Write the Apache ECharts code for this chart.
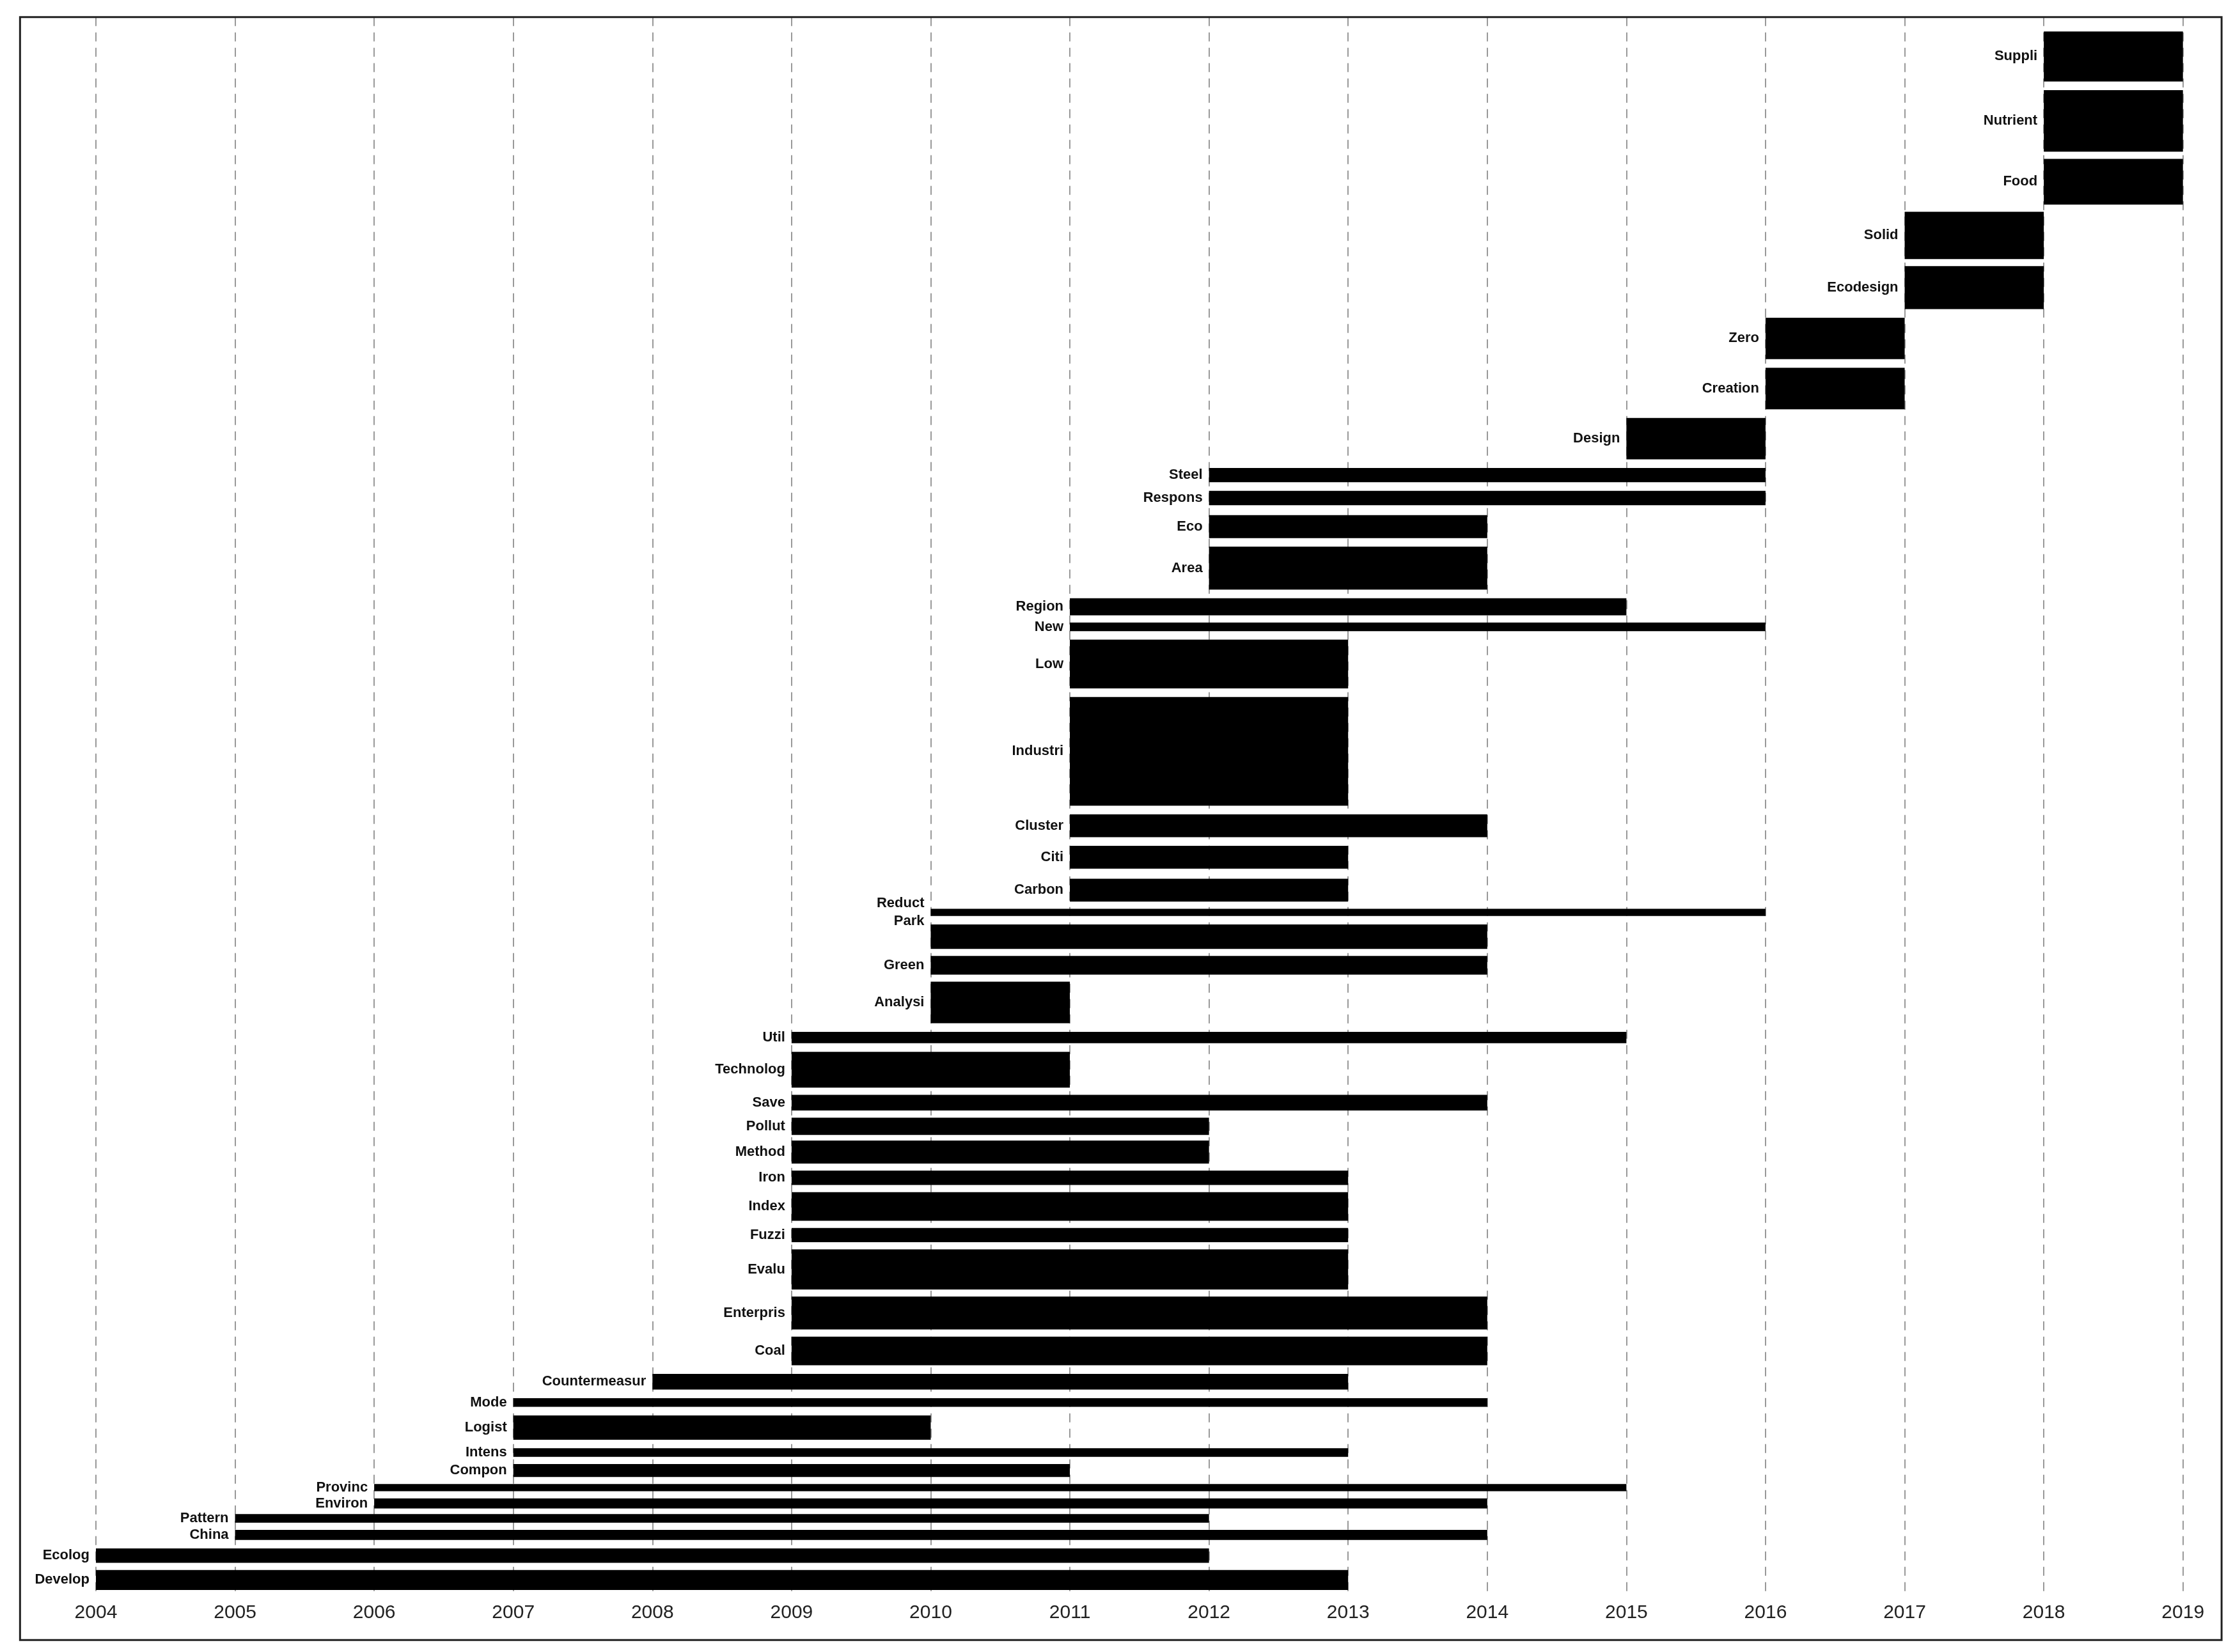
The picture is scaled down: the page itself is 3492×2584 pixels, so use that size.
<!DOCTYPE html>
<html><head><meta charset="utf-8">
<script src="https://cdn.jsdelivr.net/npm/echarts@6/dist/echarts.min.js"></script>
<style>html,body{margin:0;padding:0;background:#fff}#c{width:3492px;height:2584px}</style>
</head><body><div id="c"></div>
<script>
const years = [2004,2005,2006,2007,2008,2009,2010,2011,2012,2013,2014,2015,2016,2017,2018,2019];
const terms = ["Suppli","Nutrient","Food","Solid","Ecodesign","Zero","Creation","Design","Steel","Respons","Eco","Area","Region","New","Low","Industri","Cluster","Citi","Carbon","Reduct\nPark","","Green","Analysi","Util","Technolog","Save","Pollut","Method","Iron","Index","Fuzzi","Evalu","Enterpris","Coal","Countermeasur","Mode","Logist","Intens","Compon","Provinc","Environ","Pattern","China","Ecolog","Develop"];
const startYear = [2018,2018,2018,2017,2017,2016,2016,2015,2012,2012,2012,2012,2011,2011,2011,2011,2011,2011,2011,2010,2010,2010,2010,2009,2009,2009,2009,2009,2009,2009,2009,2009,2009,2009,2008,2007,2007,2007,2007,2006,2006,2005,2005,2004,2004];
const endYear = [2019,2019,2019,2018,2018,2017,2017,2016,2016,2016,2014,2014,2015,2016,2013,2013,2014,2013,2013,2016,2014,2014,2011,2015,2011,2014,2012,2012,2013,2013,2013,2013,2014,2014,2013,2014,2010,2013,2011,2015,2014,2012,2014,2012,2013];
// vertical extent of each band (row position units, top → bottom)
const bandTop = [22,63,111,148,186,222,257,292,327,343,360,382,418,435,447,487,569,591,614,635,646,668,686,721,735,765,781,797,818,833,858,873,906,934,960,977,989,1012,1023,1037,1047,1058,1069,1082,1097];
const bandBottom = [57,106,143,181,216,251,286,321,337,353,376,412,430,441,481,563,585,607,630,640,663,681,715,729,760,776,793,813,828,853,868,901,929,954,971,983,1006,1018,1032,1042,1054,1064,1076,1092,1111];

const S = 2.2385;
const data = terms.map((t,i)=>[startYear[i],endYear[i],bandTop[i],bandBottom[i],t]);
const chart = echarts.init(document.getElementById('c'));
chart.setOption({
  animation:false,
  backgroundColor:'#fff',
  grid:{left:67*S,right:3492-1525*S,top:12*S,bottom:2584-1113*S},
  xAxis:{type:'value',min:2004,max:2019,interval:1,
    axisLine:{show:false},axisTick:{show:false},
    axisLabel:{fontSize:30,color:'#222',fontFamily:'Liberation Sans',margin:16,formatter:v=>String(v)},
    splitLine:{show:true,lineStyle:{type:[14,10],color:'#999',width:2}}},
  yAxis:{type:'value',min:12,max:1113,inverse:true,show:false,splitLine:{show:false}},
  graphic:[{type:'rect',shape:{x:14*S,y:12*S,width:(1552-14)*S,height:(1146-12)*S},style:{fill:'none',stroke:'#222',lineWidth:3},z:100}],
  series:[{type:'custom',data:data,encode:{x:[0,1],y:[2,3]},
    renderItem:(params,api)=>{
      const p0=api.coord([api.value(0),api.value(2)]);
      const p1=api.coord([api.value(1),api.value(3)]);
      const name=data[params.dataIndex][4];
      const children=[{type:'rect',shape:{x:p0[0],y:p0[1],width:p1[0]-p0[0],height:p1[1]-p0[1]},style:{fill:'#000'}}];
      if(name){children.push({type:'text',style:{text:name,x:p0[0]-10,y:(p0[1]+p1[1])/2,align:'right',verticalAlign:'middle',fontSize:22,fontWeight:'bold',fontFamily:'Liberation Sans',fill:'#111',lineHeight:28}});}
      return {type:'group',children};
    }}]
});
</script></body></html>
